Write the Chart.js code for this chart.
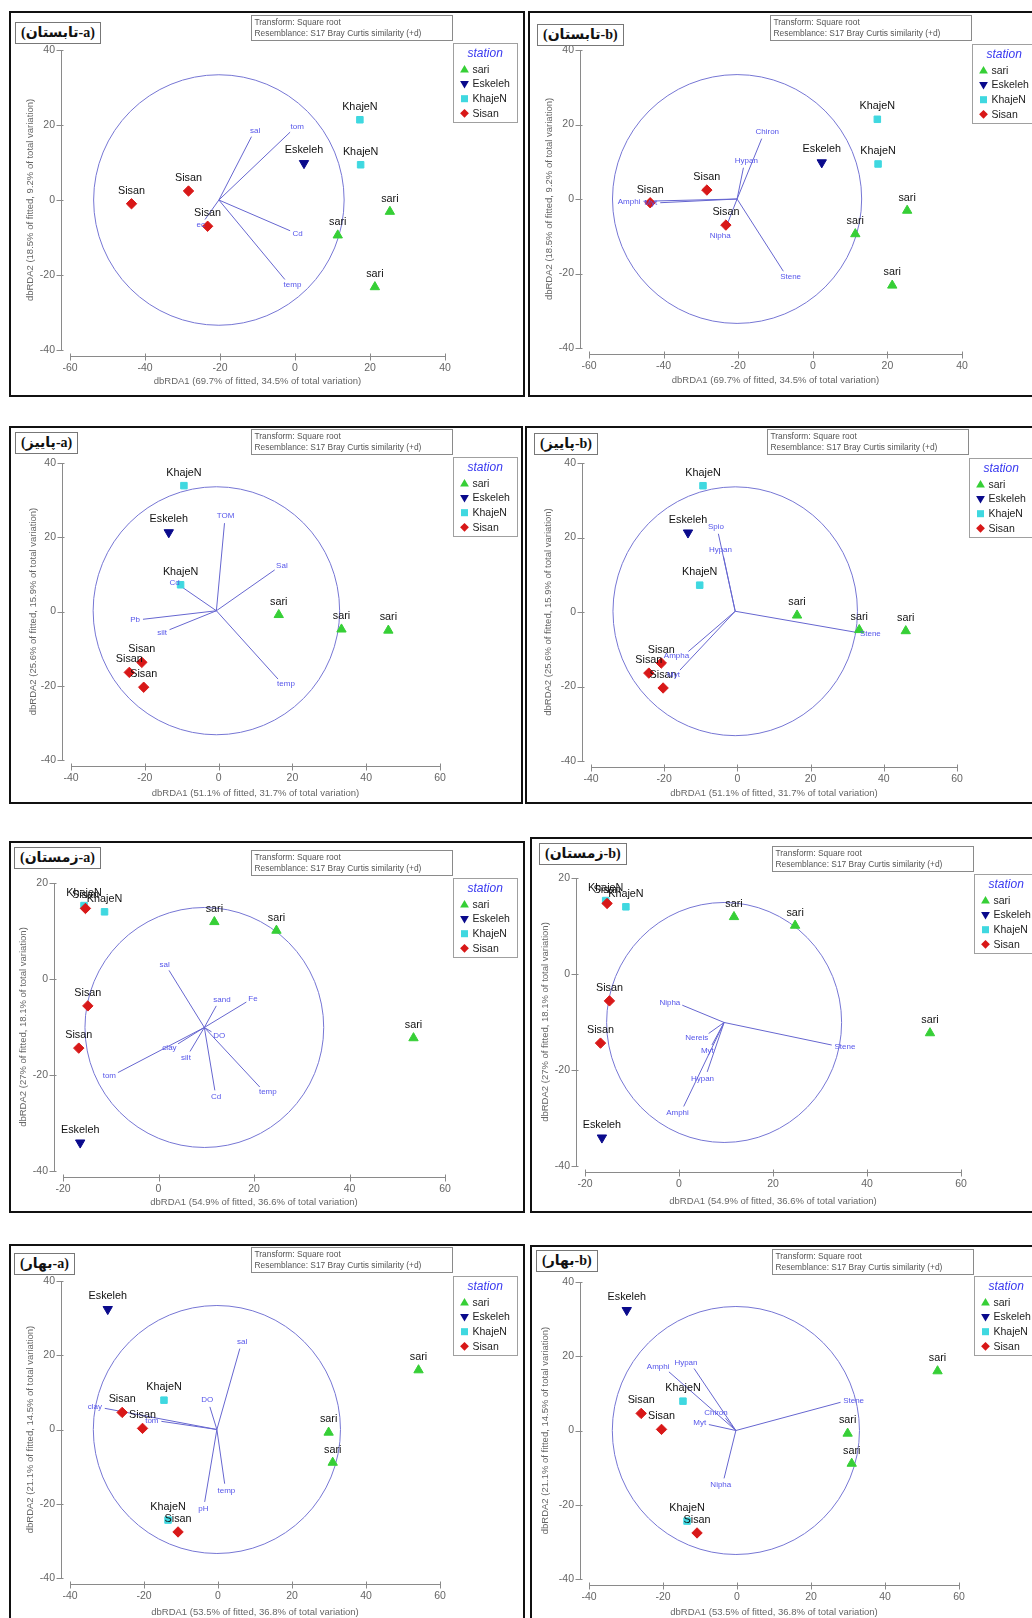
<!DOCTYPE html>
<html lang="en">
<head>
<meta charset="UTF-8">
<title>dbRDA ordinations by season</title>
<script src="https://cdn.jsdelivr.net/npm/chart.js"></script>
<style>
html, body { margin: 0; padding: 0; overflow: hidden; background: #fff; }
#page { position: relative; width: 1032px; height: 1618px; overflow: hidden; background: #fff; }
.panel { position: absolute; border: 2px solid #111; box-sizing: border-box; background: #fff; overflow: hidden; }
.panel canvas { position: absolute; left: 0; top: 0; }
.tag { position: absolute; border: 1.5px solid #777; padding: 1px 5px 2px; font: bold 14px "Liberation Serif", "DejaVu Sans", serif; color: #111; direction: ltr; white-space: nowrap; background: #fff; }
</style>
</head>
<body>
<div id="page"></div>
<script>
// station factor (legend order)
const stations = ['sari', 'Eskeleh', 'KhajeN', 'Sisan'];

// summer (تابستان)
const summerStation = ['Sisan', 'Sisan', 'Sisan', 'Eskeleh', 'KhajeN', 'KhajeN', 'sari', 'sari', 'sari'];
const summerX = [-43.6, -28.4, -23.3, 2.4, 17.3, 17.5, 25.3, 11.4, 21.3];
const summerY = [-1.0, 2.4, -7.0, 9.8, 21.4, 9.4, -3.1, -9.4, -23.2];
const summerCircle = [-20.3, 0, 33.4];   // centre x, centre y, radius
const summerEnvNames = ['sal', 'tom', 'Cd', 'temp', 'ec'];
const summerEnvX = [-11.6, -1.3, -1.3, -2.7, -24.0];
const summerEnvY = [16.9, 18.1, -8.2, -21.2, -5.2];
const summerSpNames = ['Chiron', 'Hypan', 'Amphi', 'Myt', 'Nipha', 'Stene'];
const summerSpX = [-13.7, -18.6, -45.4, -40.9, -23.5, -7.9];
const summerSpY = [16.2, 8.4, -0.6, -1.0, -8.2, -19.4];
const summerXTicks = [-60, -40, -20, 0, 20, 40];
const summerYTicks = [-40, -20, 0, 20, 40];
const summerXTitle = 'dbRDA1 (69.7% of fitted, 34.5% of total variation)';
const summerYTitle = 'dbRDA2 (18.5% of fitted, 9.2% of total variation)';

// autumn (پاییز)
const autumnStation = ['KhajeN', 'Eskeleh', 'KhajeN', 'sari', 'sari', 'sari', 'Sisan', 'Sisan', 'Sisan'];
const autumnX = [-9.4, -13.5, -10.3, 16.3, 33.3, 46.0, -20.8, -24.2, -20.3];
const autumnY = [33.9, 21.3, 7.2, -0.9, -4.8, -5.1, -13.7, -16.4, -20.4];
const autumnCircle = [-0.6, 0.2, 33.4];
const autumnEnvNames = ['TOM', 'Sal', 'temp', 'Pb', 'silt', 'Cd'];
const autumnEnvX = [1.6, 15.2, 16.1, -20.5, -13.3, -10.1];
const autumnEnvY = [23.8, 11.2, -18.2, -2.1, -4.9, 6.7];
const autumnSpNames = ['Spio', 'Hypan', 'Ampha', 'Myt', 'Stene'];
const autumnSpX = [-5.2, -3.8, -13.4, -15.7, 32.7];
const autumnSpY = [21.0, 14.9, -10.6, -15.6, -5.5];
const autumnXTicks = [-40, -20, 0, 20, 40, 60];
const autumnYTicks = [-40, -20, 0, 20, 40];
const autumnXTitle = 'dbRDA1 (51.1% of fitted, 31.7% of total variation)';
const autumnYTitle = 'dbRDA2 (25.6% of fitted, 15.9% of total variation)';

// winter (زمستان)
const winterStation = ['KhajeN', 'Sisan', 'KhajeN', 'sari', 'sari', 'Sisan', 'Sisan', 'sari', 'Eskeleh'];
const winterX = [-15.6, -15.3, -11.3, 11.7, 24.7, -14.8, -16.7, 53.4, -16.4];
const winterY = [15.3, 14.7, 14.0, 11.9, 10.1, -5.6, -14.4, -12.3, -34.1];
const winterCircle = [9.6, -10.1, 25.0];
const winterEnvNames = ['sal', 'sand', 'Fe', 'DO', 'temp', 'Cd', 'tom', 'clay', 'silt'];
const winterEnvX = [2.2, 12.1, 18.4, 11.1, 21.2, 11.8, -8.5, 4.1, 6.6];
const winterEnvY = [1.8, -5.6, -4.8, -11.0, -22.5, -23.2, -19.5, -13.5, -15.1];
const winterSpNames = ['Nipha', 'Stene', 'Nereis', 'Myt', 'Hypan', 'Amphi'];
const winterSpX = [0.7, 32.5, 6.3, 7.0, 6.0, 1.0];
const winterSpY = [-6.5, -14.8, -12.4, -14.8, -20.4, -27.6];
const winterXTicks = [-20, 0, 20, 40, 60];
const winterYTicks = [-40, -20, 0, 20];
const winterXTitle = 'dbRDA1 (54.9% of fitted, 36.6% of total variation)';
const winterYTitle = 'dbRDA2 (27% of fitted, 18.1% of total variation)';

// spring (بهار)
const springStation = ['Eskeleh', 'sari', 'KhajeN', 'Sisan', 'Sisan', 'sari', 'sari', 'KhajeN', 'Sisan'];
const springX = [-29.8, 54.2, -14.6, -25.9, -20.4, 29.9, 31.0, -13.5, -10.8];
const springY = [32.4, 16.0, 7.9, 4.6, 0.3, -0.8, -8.9, -24.4, -27.6];
const springCircle = [-0.3, 0, 33.4];
const springEnvNames = ['sal', 'DO', 'clay', 'tom', 'temp', 'pH'];
const springEnvX = [5.9, -2.2, -30.6, -15.3, 1.8, -3.6];
const springEnvY = [21.8, 6.1, 5.7, 2.2, -14.6, -19.5];
const springSpNames = ['Stene', 'Amphi', 'Hypan', 'Chiron', 'Myt', 'Nipha'];
const springSpX = [28.0, -18.4, -11.6, -3.1, -7.6, -3.5];
const springSpY = [7.6, 15.8, 16.7, 3.3, 1.6, -12.9];
const springXTicks = [-40, -20, 0, 20, 40, 60];
const springYTicks = [-40, -20, 0, 20, 40];
const springXTitle = 'dbRDA1 (53.5% of fitted, 36.8% of total variation)';
const springYTitle = 'dbRDA2 (21.1% of fitted, 14.5% of total variation)';

const noteLines = ['Transform: Square root', 'Resemblance: S17 Bray Curtis similarity (+d)'];

const seasons = {
  summer: { station: summerStation, x: summerX, y: summerY, circle: summerCircle,
    env: { names: summerEnvNames, x: summerEnvX, y: summerEnvY },
    sp: { names: summerSpNames, x: summerSpX, y: summerSpY },
    xTicks: summerXTicks, yTicks: summerYTicks, xTitle: summerXTitle, yTitle: summerYTitle },
  autumn: { station: autumnStation, x: autumnX, y: autumnY, circle: autumnCircle,
    env: { names: autumnEnvNames, x: autumnEnvX, y: autumnEnvY },
    sp: { names: autumnSpNames, x: autumnSpX, y: autumnSpY },
    xTicks: autumnXTicks, yTicks: autumnYTicks, xTitle: autumnXTitle, yTitle: autumnYTitle },
  winter: { station: winterStation, x: winterX, y: winterY, circle: winterCircle,
    env: { names: winterEnvNames, x: winterEnvX, y: winterEnvY },
    sp: { names: winterSpNames, x: winterSpX, y: winterSpY },
    xTicks: winterXTicks, yTicks: winterYTicks, xTitle: winterXTitle, yTitle: winterYTitle },
  spring: { station: springStation, x: springX, y: springY, circle: springCircle,
    env: { names: springEnvNames, x: springEnvX, y: springEnvY },
    sp: { names: springSpNames, x: springSpX, y: springSpY },
    xTicks: springXTicks, yTicks: springYTicks, xTitle: springXTitle, yTitle: springYTitle }
};

// styling / placement (pixels relative to each panel box)
const markerColors = ['#36cf36', '#0a0a8c', '#3fd8e0', '#d81818'];
const markerStyles = ['triangle', 'triangle', 'rect', 'rectRot'];
const markerRotation = [0, 180, 0, 0];
const markerSize = [5.4, 5.4, 4.6, 5.2];
const vectorColor = '#6666d0';
const vectorText = '#5656ea';

const layout = [
  { season: 'summer', kind: 'env', tag: '(تابستان-a)', left: 9, top: 11, w: 516, h: 386, area: [61, 39, 436, 339], tagXY: [4, 9], noteTop: 4, legendTop: 32, yTitleX: 21, xTitleY: 370 },
  { season: 'summer', kind: 'sp', tag: '(تابستان-b)', left: 528, top: 11, w: 516, h: 386, area: [61, 39, 434, 337], tagXY: [7, 11], noteTop: 4, legendTop: 33, yTitleX: 21, xTitleY: 369 },
  { season: 'autumn', kind: 'env', tag: '(پاییز-a)', left: 9, top: 426, w: 514, h: 378, area: [62, 37, 431, 334], tagXY: [4, 4], noteTop: 3, legendTop: 31, yTitleX: 24, xTitleY: 367 },
  { season: 'autumn', kind: 'sp', tag: '(پاییز-b)', left: 525, top: 426, w: 516, h: 378, area: [66, 37, 432, 335], tagXY: [7, 5], noteTop: 3, legendTop: 32, yTitleX: 23, xTitleY: 367 },
  { season: 'winter', kind: 'env', tag: '(زمستان-a)', left: 9, top: 841, w: 516, h: 372, area: [54, 42, 436, 330], tagXY: [3, 4], noteTop: 9, legendTop: 37, yTitleX: 14, xTitleY: 361 },
  { season: 'winter', kind: 'sp', tag: '(زمستان-b)', left: 530, top: 837, w: 516, h: 376, area: [55, 41, 431, 329], tagXY: [7, 4], noteTop: 9, legendTop: 37, yTitleX: 15, xTitleY: 364 },
  { season: 'spring', kind: 'env', tag: '(بهار-a)', left: 9, top: 1244, w: 516, h: 380, area: [61, 37, 431, 334], tagXY: [3, 7], noteTop: 3, legendTop: 32, yTitleX: 21, xTitleY: 368 },
  { season: 'spring', kind: 'sp', tag: '(بهار-b)', left: 530, top: 1245, w: 516, h: 380, area: [59, 37, 429, 334], tagXY: [4, 3], noteTop: 4, legendTop: 31, yTitleX: 15, xTitleY: 367 }
];

function drawMarker(ctx, k, x, y, r) {
  ctx.save();
  ctx.fillStyle = markerColors[k];
  ctx.beginPath();
  if (k === 0) { ctx.moveTo(x, y - r); ctx.lineTo(x + r, y + r * 0.7); ctx.lineTo(x - r, y + r * 0.7); }
  else if (k === 1) { ctx.moveTo(x, y + r); ctx.lineTo(x + r, y - r * 0.7); ctx.lineTo(x - r, y - r * 0.7); }
  else if (k === 2) { ctx.rect(x - r * 0.8, y - r * 0.8, r * 1.6, r * 1.6); }
  else { ctx.moveTo(x, y - r); ctx.lineTo(x + r, y); ctx.lineTo(x, y + r); ctx.lineTo(x - r, y); }
  ctx.closePath();
  ctx.fill();
  ctx.restore();
}

const decor = {
  id: 'decor',
  beforeDatasetsDraw(chart, args, opts) {
    const { ctx, chartArea: a } = chart;
    const xs = chart.scales.x, ys = chart.scales.y;
    const s = opts.season;
    ctx.save();
    // correlation circle
    const cx = xs.getPixelForValue(s.circle[0]), cy = ys.getPixelForValue(s.circle[1]);
    const rx = Math.abs(xs.getPixelForValue(s.circle[0] + s.circle[2]) - cx);
    const ry = Math.abs(ys.getPixelForValue(s.circle[1] + s.circle[2]) - cy);
    ctx.strokeStyle = '#7676d4';
    ctx.lineWidth = 1;
    ctx.beginPath();
    ctx.ellipse(cx, cy, rx, ry, 0, 0, Math.PI * 2);
    ctx.stroke();
    // detached axes
    ctx.strokeStyle = '#8a8a8a';
    const ax = Math.round(a.left - 9) + 0.5, ay = Math.round(a.bottom + 6) + 0.5;
    ctx.beginPath();
    ctx.moveTo(ax, ys.getPixelForValue(s.yTicks[s.yTicks.length - 1]));
    ctx.lineTo(ax, ys.getPixelForValue(s.yTicks[0]));
    s.yTicks.forEach(v => { const py = Math.round(ys.getPixelForValue(v)) + 0.5; ctx.moveTo(ax - 5, py); ctx.lineTo(ax + 2, py); });
    ctx.moveTo(xs.getPixelForValue(s.xTicks[0]), ay);
    ctx.lineTo(xs.getPixelForValue(s.xTicks[s.xTicks.length - 1]), ay);
    s.xTicks.forEach(v => { const px = Math.round(xs.getPixelForValue(v)) + 0.5; ctx.moveTo(px, ay - 3); ctx.lineTo(px, ay + 4); });
    ctx.stroke();
    ctx.restore();
  },
  afterDatasetsDraw(chart, args, opts) {
    const ctx = chart.ctx;
    const p = opts.panel;
    ctx.save();
    chart.data.datasets.forEach((ds, i) => {
      const meta = chart.getDatasetMeta(i);
      if (ds.vecLabel) {
        const o = meta.data[0], t = meta.data[1];
        const dx = t.x - o.x, dy = t.y - o.y;
        const len = Math.hypot(dx, dy) || 1;
        ctx.font = '8px Arial, "Liberation Sans", sans-serif';
        ctx.fillStyle = vectorText;
        ctx.textAlign = 'center';
        ctx.textBaseline = 'middle';
        const w = ctx.measureText(ds.vecLabel).width;
        ctx.fillText(ds.vecLabel, t.x + dx / len * (w / 2 + 3), t.y + dy / len * 7);
      } else {
        ctx.font = '10.8px Arial, "Liberation Sans", sans-serif';
        ctx.fillStyle = '#111';
        ctx.textAlign = 'center';
        ctx.textBaseline = 'alphabetic';
        meta.data.forEach(el => ctx.fillText(ds.label, el.x, el.y - 10));
      }
    });
    // transform / resemblance note
    const nx = 242 - 2 + 0.5, ny = p.noteTop - 2 + 0.5;
    ctx.strokeStyle = '#8a8a8a';
    ctx.lineWidth = 1;
    ctx.strokeRect(nx, ny, 201, 25);
    ctx.font = '8.4px Arial, "Liberation Sans", sans-serif';
    ctx.fillStyle = '#555';
    ctx.textAlign = 'left';
    ctx.textBaseline = 'middle';
    ctx.fillText(noteLines[0], nx + 3, ny + 7);
    ctx.fillText(noteLines[1], nx + 3, ny + 18);
    // station legend
    const lx = 444 - 2 + 0.5, ly = p.legendTop - 2 + 0.5;
    ctx.strokeStyle = '#a0a0a0';
    ctx.strokeRect(lx, ly, 64, 79);
    ctx.font = 'italic 12px Arial, "Liberation Sans", sans-serif';
    ctx.fillStyle = '#3838f0';
    ctx.fillText('station', lx + 14, ly + 10);
    ctx.font = '10.5px Arial, "Liberation Sans", sans-serif';
    stations.forEach((st, k) => {
      const iy = ly + 26 + k * 14.6;
      drawMarker(ctx, k, lx + 11, iy, 4.4);
      ctx.fillStyle = '#222';
      ctx.fillText(st, lx + 19, iy + 0.5);
    });
    ctx.restore();
  }
};

const page = document.getElementById('page');

layout.forEach(p => {
  const s = seasons[p.season];
  const box = document.createElement('div');
  box.className = 'panel';
  Object.assign(box.style, { left: p.left + 'px', top: p.top + 'px', width: p.w + 'px', height: p.h + 'px' });
  const cw = p.w - 4, ch = p.h - 4;
  const canvas = document.createElement('canvas');
  canvas.width = cw; canvas.height = ch;
  canvas.style.width = cw + 'px'; canvas.style.height = ch + 'px';
  box.appendChild(canvas);
  const tag = document.createElement('div');
  tag.className = 'tag';
  tag.dir = 'ltr';
  tag.textContent = p.tag;
  tag.style.left = p.tagXY[0] + 'px';
  tag.style.top = p.tagXY[1] + 'px';
  box.appendChild(tag);
  page.appendChild(box);

  const [al, at, ar, ab] = p.area.map(v => v - 2);
  const vec = s[p.kind];
  const datasets = [];
  stations.forEach((st, k) => {
    const pts = [];
    s.station.forEach((v, i) => { if (v === st) pts.push({ x: s.x[i], y: s.y[i] }); });
    datasets.push({
      type: 'scatter', label: st, data: pts, order: 4 - k,
      pointStyle: markerStyles[k], pointRotation: markerRotation[k], pointRadius: markerSize[k],
      backgroundColor: markerColors[k], borderColor: markerColors[k], borderWidth: 1
    });
  });
  vec.names.forEach((n, i) => {
    datasets.push({
      type: 'line', label: n, vecLabel: n, order: 10,
      data: [{ x: s.circle[0], y: s.circle[1] }, { x: vec.x[i], y: vec.y[i] }],
      borderColor: vectorColor, borderWidth: 1, pointRadius: 0, fill: false, tension: 0
    });
  });

  const lh = 9.5 * 1.2;
  new Chart(canvas.getContext('2d'), {
    type: 'scatter',
    data: { datasets },
    options: {
      responsive: false,
      animation: false,
      events: [],
      layout: { padding: { left: 0, top: at, right: cw - ar, bottom: 0 } },
      plugins: {
        legend: { display: false },
        tooltip: { enabled: false },
        decor: { season: s, panel: p }
      },
      scales: {
        x: {
          type: 'linear', min: s.xTicks[0], max: s.xTicks[s.xTicks.length - 1],
          afterBuildTicks: sc => { sc.ticks = s.xTicks.map(v => ({ value: v })); },
          afterFit: sc => { sc.height = ch - ab; },
          grid: { display: false, drawTicks: false },
          border: { display: false },
          ticks: { color: '#666', font: { size: 10.5, family: 'Arial' }, padding: 12, maxRotation: 0, autoSkip: false },
          title: { display: true, text: s.xTitle, color: '#666', font: { size: 9.5, family: 'Arial' },
                   padding: { top: 0, bottom: ch - (p.xTitleY - 2) - lh / 2 } }
        },
        y: {
          type: 'linear', min: s.yTicks[0], max: s.yTicks[s.yTicks.length - 1],
          afterBuildTicks: sc => { sc.ticks = s.yTicks.map(v => ({ value: v })); },
          afterFit: sc => { sc.width = al; },
          grid: { display: false, drawTicks: false },
          border: { display: false },
          ticks: { color: '#666', font: { size: 10.5, family: 'Arial' }, padding: 15, autoSkip: false },
          title: { display: true, text: s.yTitle, color: '#666', font: { size: 9.5, family: 'Arial' },
                   padding: { top: (p.yTitleX - 2) - lh / 2, bottom: 0 } }
        }
      }
    },
    plugins: [decor]
  });
});
</script>
</body>
</html>
